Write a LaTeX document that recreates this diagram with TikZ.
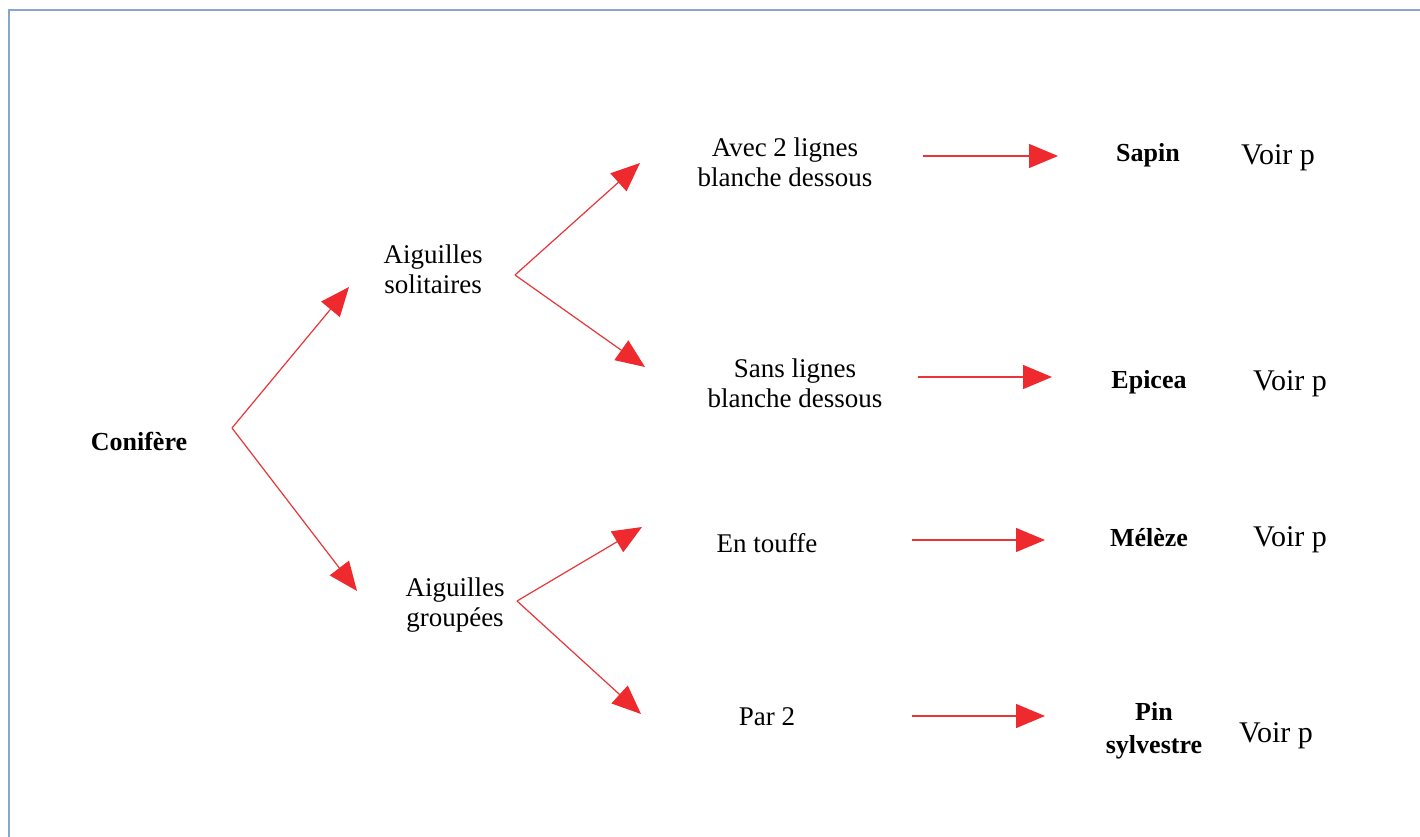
\documentclass[tikz,border=0pt]{standalone}
\usepackage{fontspec}
\setmainfont{Liberation Serif}
\usetikzlibrary{arrows.meta}
\definecolor{arrred}{HTML}{E8353A}
\definecolor{headred}{HTML}{EE2A2E}
\definecolor{frameblue}{HTML}{8AA4CC}
\tikzset{
  lbl/.style={align=center, inner sep=0pt, font=\fontsize{27}{30}\selectfont},
  blbl/.style={align=center, inner sep=0pt, font=\fontsize{26}{33}\selectfont\bfseries},
  voir/.style={inner sep=0pt, font=\fontsize{30}{33}\selectfont},
  arr/.style={draw=arrred, line width=1.2pt, -{Triangle[length=29pt,width=24pt,fill=headred,color=headred]}},
}
\begin{document}
\begin{tikzpicture}[x=1pt,y=-1pt]
\useasboundingbox (0,0) rectangle (1420,837);
\fill[white] (0,0) rectangle (1420,837);
% frame
\draw[frameblue, line width=2pt] (8.5,837) -- (8.5,10) -- (1420,10);

% nodes
\node[blbl] (conifere) at (139,441) {Conif\`ere};
\node[lbl] (sol) at (433,269) {Aiguilles\\solitaires};
\node[lbl] (grp) at (455,605) {Aiguilles\\group\'ees};
\node[lbl] (avec) at (785,162) {Avec 2 lignes\\blanche dessous};
\node[lbl] (sans) at (795,383) {Sans lignes\\blanche dessous};
\node[lbl] (touffe) at (767,543) {En touffe};
\node[lbl] (par) at (767,717) {Par 2};
\node[blbl] (sapin) at (1148,155) {Sapin};
\node[blbl] (epicea) at (1149,382) {Epicea};
\node[blbl] (meleze) at (1149,538) {M\'el\`eze};
\node[blbl] (pin) at (1154,731) {Pin\\sylvestre};
\node[voir] (v1) at (1278,158) {Voir p};
\node[voir] (v2) at (1290,384) {Voir p};
\node[voir] (v3) at (1290,540) {Voir p};
\node[voir] (v4) at (1276,736) {Voir p};

% branch points and tips
\coordinate (b1) at (232,428);
\coordinate (t1a) at (349,287);
\coordinate (t1b) at (357,591);
\coordinate (b2) at (515,275);
\coordinate (t2a) at (640,163);
\coordinate (t2b) at (645,367);
\coordinate (b3) at (517,601);
\coordinate (t3a) at (642,527);
\coordinate (t3b) at (641,714);
\coordinate (h1s) at (923,156);
\coordinate (h1e) at (1058,156);
\coordinate (h2s) at (918,377);
\coordinate (h2e) at (1052,377);
\coordinate (h3s) at (912,540);
\coordinate (h3e) at (1045,540);
\coordinate (h4s) at (912,716);
\coordinate (h4e) at (1045,716);

\draw[arr] (b1) -- (t1a);
\draw[arr] (b1) -- (t1b);
\draw[arr] (b2) -- (t2a);
\draw[arr] (b2) -- (t2b);
\draw[arr] (b3) -- (t3a);
\draw[arr] (b3) -- (t3b);
\draw[arr] (h1s) -- (h1e);
\draw[arr] (h2s) -- (h2e);
\draw[arr] (h3s) -- (h3e);
\draw[arr] (h4s) -- (h4e);
\end{tikzpicture}
\end{document}
